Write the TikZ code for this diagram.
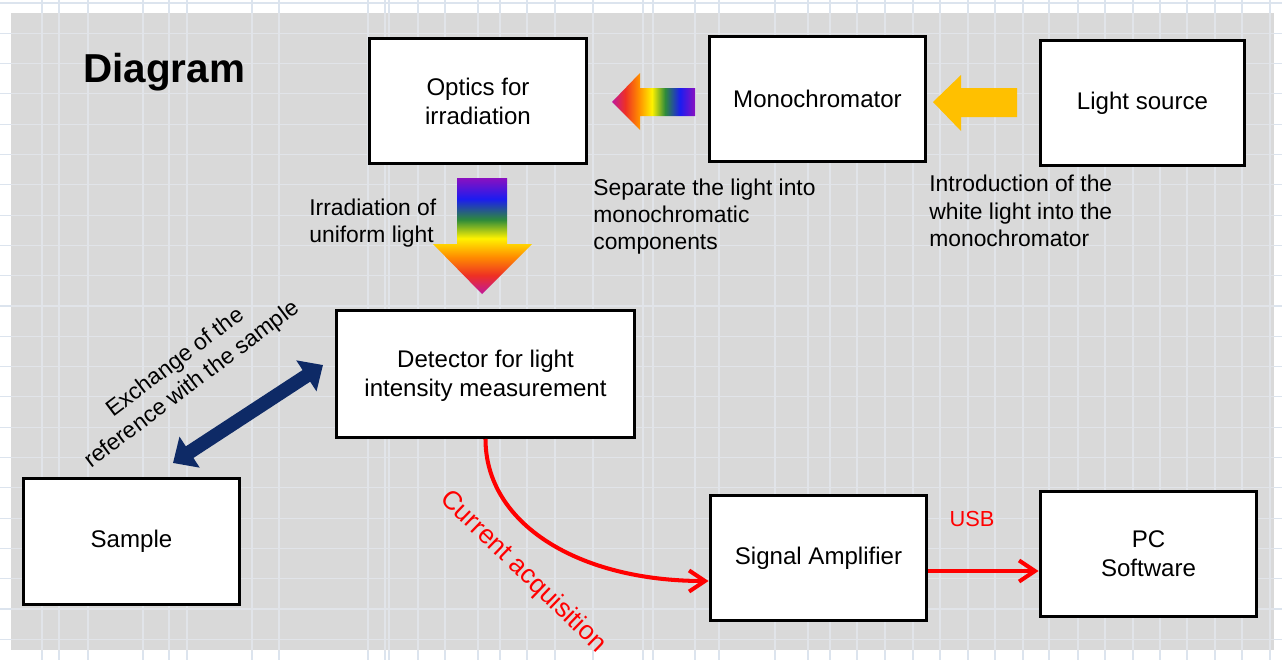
\documentclass[tikz,border=0pt]{standalone}
\usepackage{fontspec}
\setmainfont{Liberation Sans}
\usetikzlibrary{calc,arrows.meta}
\definecolor{bggray}{HTML}{D9D9D9}
\definecolor{gridblue}{HTML}{DCE4EE}
\definecolor{gridfaint}{HTML}{E1E4E9}
\definecolor{navyarrow}{HTML}{0E2A66}
\definecolor{lightorange}{HTML}{FFC000}
\definecolor{rbmag}{HTML}{C0189C}
\definecolor{rbred}{HTML}{EE3024}
\definecolor{rborange}{HTML}{FF8C00}
\definecolor{rbyellow}{HTML}{FFF200}
\definecolor{rbgreen}{HTML}{2E8B3A}
\definecolor{rbblue}{HTML}{1C1CF0}
\definecolor{rbviolet}{HTML}{8A10C0}
\pgfdeclarehorizontalshading{rainbow}{100bp}{color(0bp)=(rbmag); color(25bp)=(rbmag); color(33bp)=(rbred); color(41bp)=(rborange); color(49bp)=(rbyellow); color(57bp)=(rbgreen); color(66bp)=(rbblue); color(75bp)=(rbviolet); color(100bp)=(rbviolet)}
\tikzstyle{block} = [rectangle, draw=black, line width=1.7pt, fill=white, minimum width=4.34cm, minimum height=2.5cm, text centered, align=center, font=\fontsize{13.7}{16.4}\selectfont]
\tikzstyle{note} = [align=left, inner sep=0pt, font=\fontsize{13}{15.6}\selectfont]
\tikzstyle{gridline} = [draw=gridblue, line width=0.6pt]
\tikzstyle{redarrow} = [red, line width=2.3pt, -{Straight Barb[length=9pt,width=12pt]}]
\tikzstyle{swaparrow} = [draw=navyarrow, line width=7.9pt, {Triangle[length=11.3pt,width=20.4pt]}-{Triangle[length=11.3pt,width=20.4pt]}]

\begin{document}
\begin{tikzpicture}[x=0.02cm, y=-0.02cm]
    \useasboundingbox (0,0) rectangle (1282,660);
    % sheet with cell grid
    \fill[white] (0,0) rectangle (1282,660);
    \foreach \gx in {42,59,88,143,169,187,252,279,368,385,389,418,445,478,500,527,555,593,643,653,695,719,775,808,830,857,885,913,940,968,995,1023,1049,1078,1105,1133,1160,1187,1215,1242,1270}
      \draw[gridline] (\gx,0) -- (\gx,660);
    \foreach \k in {0,...,21}
      \draw[gridline] (0,{3+30.3*\k}) -- (1282,{3+30.3*\k});
    \fill[bggray] (11,13) rectangle (1274,650);
    \begin{scope}
      \clip (11,13) rectangle (1274,650);
      \foreach \gx in {42,59,88,143,169,187,252,279,368,385,389,418,445,478,500,527,555,593,643,653,695,719,775,808,830,857,885,913,940,968,995,1023,1049,1078,1105,1133,1160,1187,1215,1242,1270}
        \draw[gridline, draw=gridfaint] (\gx,0) -- (\gx,660);
      \foreach \k in {0,...,21}
        \draw[gridline, draw=gridfaint] (0,{3+30.3*\k}) -- (1282,{3+30.3*\k});
    \end{scope}

    \node (title)[anchor=base west, inner sep=0pt, font=\bfseries\fontsize{23}{27}\selectfont] at (83,82) {Diagram};
    \node (optics)[block] at (478,101) {Optics for\\irradiation};
    \node (mono)[block] at (817.5,99) {Monochromator};
    \node (light)[block, minimum width=4.08cm] at (1142.5,103) {Light source};
    \node (detector)[block, minimum width=5.96cm, minimum height=2.54cm] at (485.5,374) {\rule{0pt}{12pt}Detector for light\\intensity measurement};
    \node (sample)[block, minimum height=2.52cm] at (131.5,541.5) {Sample};
    \node (amp)[block] at (818.5,558) {Signal Amplifier};
    \node (pc)[block] at (1148.5,554) {PC\\Software};

    \node (sepnote)[note, anchor=west] at (593,216.5) {Separate the light into\\monochromatic\\components};
    \node (intronote)[note, anchor=west] at (929,211) {Introduction of the\\white light into the\\monochromator};
    \node (irrnote)[note, anchor=west] at (309,223) {Irradiation of\\uniform light};
    \node (usb)[text=red, font=\fontsize{12.4}{14}\selectfont] at (972,519) {USB};
    \node (current)[rotate=-44, text=red, font=\fontsize{15}{18}\selectfont] at (523,572) {Current acquisition};
    \node (exchange)[rotate=37, align=center, font=\fontsize{13}{15.6}\selectfont] at (184,374) {Exchange of the\\reference with the sample};

    % block arrows
    \fill[lightorange] (933,102) -- (961,75) -- (961,88) -- (1017,88) -- (1017,117) -- (961,117) -- (961,131) -- cycle;
    \shade[shading=rainbow] (612,102) -- (640,73) -- (640,88) -- (695,88) -- (695,116) -- (640,116) -- (640,130) -- cycle;
    \shade[shading=rainbow, shading angle=90] (457,178) -- (507,178) -- (507,244) -- (532,244) -- (482,294) -- (433,244) -- (457,244) -- cycle;

    \coordinate (swapS) at (173,463);
    \coordinate (swapD) at (323,365);
    \draw[swaparrow] (swapS) -- (swapD);

    \draw[redarrow] (detector.south) .. controls +(0,85) and +(-130,0) .. ($(amp.west)+(0,23)$);
    \coordinate (usbout) at ($(amp.east)+(0,13)$);
    \draw[redarrow] (usbout) -- (usbout -| pc.west);
\end{tikzpicture}
\end{document}
